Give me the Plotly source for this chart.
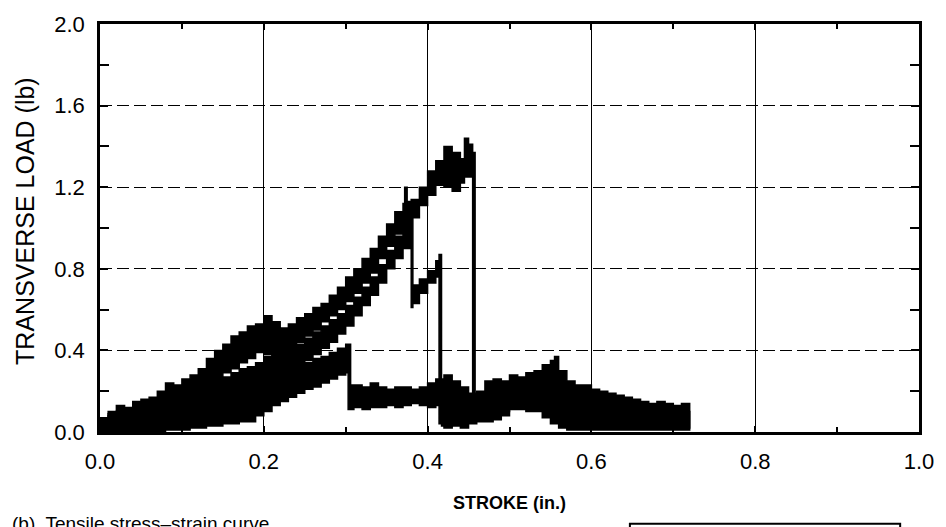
import plotly.graph_objects as go

# Stroke positions (in.) and the lower / upper edge of each noisy load trace (lb)

# Specimen A: highest peak (~1.4 lb) with final failure near 0.46 in.
a_x = [0.000, 0.010, 0.020, 0.030, 0.040, 0.050, 0.060, 0.070, 0.080, 0.090,
       0.100, 0.110, 0.120, 0.130, 0.140, 0.150, 0.160, 0.170, 0.180, 0.190,
       0.200, 0.210, 0.220, 0.230, 0.240, 0.250, 0.260, 0.270, 0.280, 0.290,
       0.300, 0.310, 0.320, 0.330, 0.340, 0.350, 0.360, 0.370, 0.372, 0.375,
       0.380, 0.390, 0.400, 0.410, 0.420, 0.430, 0.440, 0.445, 0.450, 0.455,
       0.458, 0.470, 0.480, 0.490, 0.500, 0.510, 0.520, 0.530, 0.540, 0.550,
       0.560, 0.570, 0.580, 0.590, 0.600, 0.610, 0.620, 0.630, 0.640, 0.650,
       0.660, 0.670, 0.680, 0.690, 0.700, 0.710, 0.720]
a_lo = [0.00, 0.00, 0.00, 0.01, 0.01, 0.02, 0.03, 0.04, 0.06, 0.07,
        0.09, 0.11, 0.13, 0.17, 0.21, 0.25, 0.29, 0.31, 0.34, 0.36,
        0.39, 0.38, 0.36, 0.37, 0.40, 0.44, 0.47, 0.50, 0.54, 0.57,
        0.60, 0.64, 0.68, 0.73, 0.78, 0.85, 0.91, 0.97, 0.98, 0.99,
        1.00, 1.05, 1.11, 1.16, 1.21, 1.20, 1.18, 1.22, 1.25, 1.25,
        0.06, 0.06, 0.07, 0.08, 0.10, 0.11, 0.11, 0.10, 0.10, 0.07,
        0.04, 0.02, 0.01, 0.01, 0.01, 0.01, 0.01, 0.01, 0.01, 0.01,
        0.01, 0.01, 0.01, 0.01, 0.01, 0.01, 0.01]
a_hi = [0.06, 0.10, 0.13, 0.12, 0.15, 0.16, 0.17, 0.20, 0.24, 0.23,
        0.26, 0.28, 0.31, 0.36, 0.40, 0.43, 0.47, 0.49, 0.52, 0.53,
        0.57, 0.54, 0.51, 0.53, 0.56, 0.58, 0.61, 0.63, 0.67, 0.71,
        0.76, 0.80, 0.85, 0.90, 0.96, 1.02, 1.08, 1.12, 1.20, 1.13,
        1.14, 1.20, 1.28, 1.33, 1.40, 1.37, 1.34, 1.44, 1.41, 1.37,
        0.16, 0.17, 0.18, 0.19, 0.20, 0.22, 0.22, 0.23, 0.22, 0.22,
        0.20, 0.18, 0.16, 0.15, 0.14, 0.13, 0.12, 0.12, 0.11, 0.11,
        0.10, 0.10, 0.11, 0.10, 0.09, 0.10, 0.09]

# Specimen B: partial failure near 0.38 in., reload, then failure near 0.415 in.
b_x = [0.000, 0.010, 0.020, 0.030, 0.040, 0.050, 0.060, 0.070, 0.080, 0.090,
       0.100, 0.110, 0.120, 0.130, 0.140, 0.150, 0.160, 0.170, 0.180, 0.190,
       0.200, 0.210, 0.220, 0.230, 0.240, 0.250, 0.260, 0.270, 0.280, 0.290,
       0.300, 0.310, 0.320, 0.330, 0.340, 0.350, 0.360, 0.370, 0.380, 0.382,
       0.390, 0.400, 0.410, 0.414, 0.417, 0.420, 0.430, 0.440, 0.450, 0.460,
       0.470, 0.480, 0.490, 0.500]
b_lo = [0.00, 0.00, 0.00, 0.00, 0.00, 0.00, 0.01, 0.01, 0.02, 0.03,
        0.04, 0.05, 0.06, 0.07, 0.09, 0.11, 0.13, 0.14, 0.16, 0.18,
        0.20, 0.23, 0.25, 0.27, 0.30, 0.32, 0.35, 0.38, 0.41, 0.44,
        0.48, 0.52, 0.57, 0.62, 0.67, 0.73, 0.80, 0.85, 0.90, 0.61,
        0.63, 0.68, 0.73, 0.76, 0.04, 0.03, 0.02, 0.03, 0.02, 0.04,
        0.05, 0.05, 0.06, 0.08]
b_hi = [0.06, 0.08, 0.10, 0.09, 0.11, 0.12, 0.13, 0.14, 0.16, 0.16,
        0.18, 0.19, 0.22, 0.23, 0.25, 0.27, 0.29, 0.31, 0.32, 0.34,
        0.37, 0.39, 0.38, 0.41, 0.43, 0.46, 0.49, 0.52, 0.55, 0.58,
        0.62, 0.66, 0.71, 0.76, 0.82, 0.89, 0.96, 1.01, 1.06, 0.72,
        0.75, 0.79, 0.84, 0.87, 0.14, 0.13, 0.12, 0.14, 0.12, 0.13,
        0.14, 0.15, 0.14, 0.16]

# Specimen C: early failure near 0.305 in., long residual load tail
c_x = [0.000, 0.010, 0.020, 0.030, 0.040, 0.050, 0.060, 0.070, 0.080, 0.090,
       0.100, 0.110, 0.120, 0.130, 0.140, 0.150, 0.160, 0.170, 0.180, 0.190,
       0.200, 0.210, 0.220, 0.230, 0.240, 0.250, 0.260, 0.270, 0.280, 0.290,
       0.300, 0.303, 0.306, 0.310, 0.320, 0.330, 0.340, 0.350, 0.360, 0.370,
       0.380, 0.390, 0.400, 0.410, 0.420, 0.430, 0.440, 0.450, 0.460, 0.470,
       0.480, 0.490, 0.500, 0.510, 0.520, 0.530, 0.540, 0.550, 0.555, 0.560,
       0.570, 0.580, 0.590, 0.600, 0.610, 0.620, 0.630, 0.640, 0.650, 0.660,
       0.670, 0.680, 0.690, 0.700, 0.710, 0.720]
c_lo = [0.00, 0.00, 0.00, 0.00, 0.00, 0.00, 0.00, 0.00, 0.00, 0.01,
        0.01, 0.01, 0.02, 0.02, 0.03, 0.03, 0.04, 0.04, 0.05, 0.05,
        0.08, 0.10, 0.13, 0.15, 0.17, 0.19, 0.21, 0.22, 0.24, 0.26,
        0.28, 0.29, 0.11, 0.11, 0.12, 0.11, 0.12, 0.12, 0.13, 0.12,
        0.13, 0.14, 0.13, 0.12, 0.13, 0.12, 0.12, 0.11, 0.11, 0.12,
        0.13, 0.14, 0.14, 0.15, 0.16, 0.15, 0.16, 0.17, 0.18, 0.12,
        0.10, 0.09, 0.08, 0.07, 0.06, 0.06, 0.05, 0.05, 0.04, 0.04,
        0.03, 0.03, 0.03, 0.03, 0.02, 0.02]
c_hi = [0.07, 0.09, 0.10, 0.08, 0.10, 0.10, 0.11, 0.10, 0.12, 0.12,
        0.13, 0.13, 0.14, 0.15, 0.16, 0.17, 0.18, 0.19, 0.20, 0.22,
        0.24, 0.26, 0.28, 0.30, 0.32, 0.34, 0.36, 0.37, 0.39, 0.41,
        0.43, 0.43, 0.23, 0.23, 0.22, 0.24, 0.22, 0.21, 0.22, 0.22,
        0.21, 0.22, 0.24, 0.26, 0.28, 0.25, 0.22, 0.19, 0.20, 0.25,
        0.26, 0.25, 0.28, 0.27, 0.29, 0.30, 0.33, 0.35, 0.37, 0.30,
        0.25, 0.23, 0.23, 0.21, 0.20, 0.19, 0.18, 0.17, 0.16, 0.15,
        0.14, 0.15, 0.14, 0.13, 0.14, 0.14]

x_ticks = [0.0, 0.2, 0.4, 0.6, 0.8, 1.0]
x_labels = ["0.0", "0.2", "0.4", "0.6", "0.8", "1.0"]
y_ticks = [0.0, 0.4, 0.8, 1.2, 1.6, 2.0]
y_labels = ["0.0", "0.4", "0.8", "1.2", "1.6", "2.0"]

FONT = "Liberation Sans, Arial, sans-serif"

fig = go.Figure()


def add_band(xs, lo, hi, name):
    # closed outline: upper edge forward, lower edge back, stepped like sampled data
    px = list(xs) + list(reversed(xs))
    py = list(hi) + list(reversed(lo))
    fig.add_trace(go.Scatter(
        x=px, y=py, mode="lines", name=name,
        line=dict(color="black", width=1.5, shape="hv"),
        fill="toself", fillcolor="black",
        hoverinfo="skip", showlegend=False,
    ))


add_band(c_x, c_lo, c_hi, "C")
add_band(b_x, b_lo, b_hi, "B")
add_band(a_x, a_lo, a_hi, "A")

fig.update_xaxes(
    range=[0, 1.0], tickmode="array", tickvals=x_ticks, ticktext=x_labels,
    showline=True, linecolor="black", linewidth=2.5, mirror="ticks",
    ticks="inside", ticklen=6, tickcolor="black", tickwidth=1.5,
    showgrid=True, gridcolor="black", gridwidth=1,
    zeroline=False, ticklabelstandoff=8,
    tickfont=dict(family=FONT, size=22, color="black"),
    minor=dict(tickmode="array", tickvals=[0.1, 0.3, 0.5, 0.7, 0.9],
               ticks="inside", ticklen=5, tickcolor="black", tickwidth=1.5,
               showgrid=False),
)
fig.update_yaxes(
    range=[0, 2.0], tickmode="array", tickvals=y_ticks, ticktext=y_labels,
    showline=True, linecolor="black", linewidth=2.5, mirror="ticks",
    ticks="inside", ticklen=8, tickcolor="black", tickwidth=1.5,
    showgrid=True, gridcolor="black", gridwidth=1.2, griddash="12px,5px",
    zeroline=False, ticklabelstandoff=8,
    tickfont=dict(family=FONT, size=22, color="black"),
    minor=dict(tickmode="array", tickvals=[0.2, 0.6, 1.0, 1.4, 1.8],
               ticks="inside", ticklen=9, tickcolor="black", tickwidth=1.5,
               showgrid=False),
)

fig.update_layout(
    width=946, height=527,
    margin=dict(l=100, r=24, t=23, b=95),
    paper_bgcolor="white", plot_bgcolor="white",
    font=dict(family=FONT, color="black"),
    annotations=[
        dict(text="TRANSVERSE LOAD (lb)", textangle=-90,
             xref="paper", yref="paper", x=-0.0925, y=0.518,
             xanchor="center", yanchor="middle", showarrow=False,
             font=dict(family=FONT, size=25, color="black")),
        dict(text="<b>STROKE (in.)</b>",
             xref="paper", yref="paper", x=0.5, y=-0.1736,
             xanchor="center", yanchor="middle", showarrow=False,
             font=dict(family=FONT, size=18, color="black")),
        dict(text="(b)  Tensile stress\u2013strain curve",
             xref="paper", yref="paper", x=-0.1095, y=-0.193,
             xanchor="left", yanchor="top", showarrow=False,
             font=dict(family=FONT, size=19, color="black")),
    ],
    shapes=[
        dict(type="rect", xref="paper", yref="paper",
             x0=0.647, x1=0.977, y0=-0.60, y1=-0.225,
             line=dict(color="black", width=2), fillcolor="rgba(0,0,0,0)"),
    ],
)

fig.write_html("out.html")
